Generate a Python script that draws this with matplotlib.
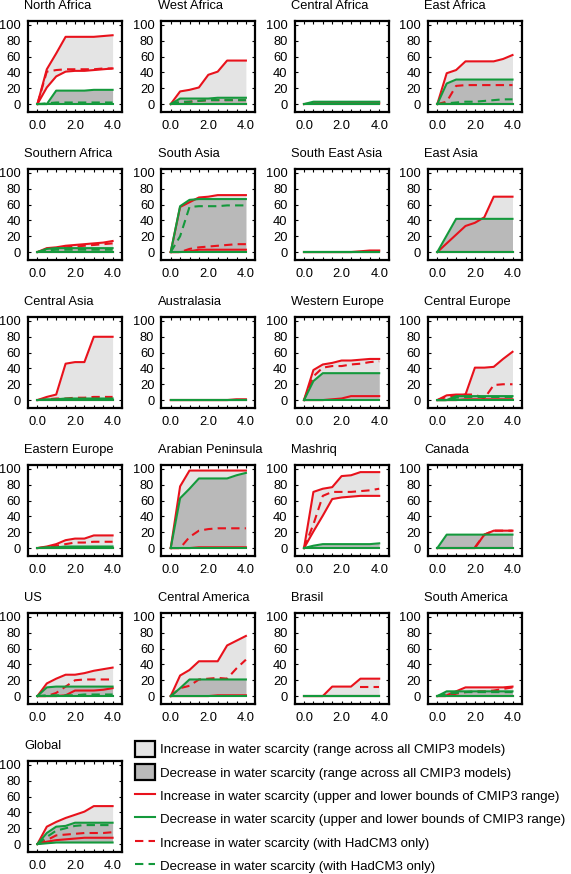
import matplotlib
matplotlib.use("Agg")
import matplotlib.pyplot as plt
import numpy as np
from matplotlib.patches import Patch
from matplotlib.lines import Line2D

plt.rcParams["font.family"] = ["Liberation Sans", "DejaVu Sans"]
plt.rcParams["font.size"] = 9

nan = np.nan
# warming (x axis), same for every region
dT = [0.0, 0.5, 1.0, 1.5, 2.0, 2.5, 3.0, 3.5, 4.0]

regions = ["North Africa", "West Africa", "Central Africa", "East Africa",
           "Southern Africa", "South Asia", "South East Asia", "East Asia",
           "Central Asia", "Australasia", "Western Europe", "Central Europe",
           "Eastern Europe", "Arabian Peninsula", "Mashriq", "Canada",
           "US", "Central America", "Brasil", "South America", "Global"]

# increase in water scarcity, CMIP3 upper / lower bounds
red_hi = {
    "North Africa":      [0, 44, 64, 85, 85, 85, 85, 86, 87],
    "West Africa":       [0, 16, 18, 21, 37, 41, 55, 55, 55],
    "Central Africa":    [0, 1, 1, 1, 1, 1, 1, 1, 1],
    "East Africa":       [0, 39, 43, 54, 54, 54, 54, 57, 62],
    "Southern Africa":   [0, 5, 6, 8, 9, 10, 11, 12, 14],
    "South Asia":        [0, 57, 63, 69, 70, 72, 72, 72, 72],
    "South East Asia":   [0, 0, 0, 0, 0, 0, 1, 2, 2],
    "East Asia":         [0, 11, 22, 33, 37, 44, 70, 70, 70],
    "Central Asia":      [0, 4, 7, 46, 48, 48, 80, 80, 80],
    "Australasia":       [0, 0, 0, 0, 0, 0, 0, 1, 1],
    "Western Europe":    [0, 38, 45, 47, 50, 50, 51, 52, 52],
    "Central Europe":    [0, 6, 7, 7, 41, 41, 42, 52, 61],
    "Eastern Europe":    [0, 2, 5, 10, 12, 12, 16, 16, 16],
    "Arabian Peninsula": [0, 78, 98, 98, 98, 98, 98, 98, 98],
    "Mashriq":           [0, 71, 75, 77, 91, 92, 96, 96, 96],
    "Canada":            [0, 0, 0, 0, 0, 17, 22, 22, 22],
    "US":                [0, 16, 22, 27, 27, 29, 32, 34, 36],
    "Central America":   [0, 26, 33, 44, 44, 44, 64, 70, 76],
    "Brasil":            [0, 0, 0, 12, 12, 12, 22, 22, 22],
    "South America":     [0, 1, 6, 11, 11, 11, 11, 11, 12],
    "Global":            [0, 22, 28, 33, 37, 41, 48, 48, 48],
}
red_lo = {
    "North Africa":      [0, 21, 35, 41, 42, 42, 43, 44, 45],
    "South Asia":        [0, 0, 1, 3, 3, 3, 3, 3, 3],
    "Western Europe":    [0, 0, 0, 1, 2, 5, 5, 5, 5],
    "Central Europe":    [0, 0, 0, 1, 1, 1, 1, 1, 1],
    "Arabian Peninsula": [0, 0, 0, 1, 1, 1, 1, 1, 1],
    "Mashriq":           [0, 21, 41, 62, 64, 65, 66, 66, 66],
    "US":                [0, 0, 0, 1, 7, 7, 7, 8, 10],
    "Central America":   [0, 0, 0, 0, 0, 1, 1, 1, 1],
    "Global":            [0, 3, 5, 6, 7, 8, 8, 8, 8],
}
# decrease in water scarcity, CMIP3 upper / lower bounds
green_hi = {
    "North Africa":      [0, 0, 17, 17, 17, 17, 18, 18, 18],
    "West Africa":       [0, 7, 7, 7, 7, 8, 8, 8, 8],
    "Central Africa":    [0, 3, 3, 3, 3, 3, 3, 3, 3],
    "East Africa":       [0, 26, 31, 31, 31, 31, 31, 31, 31],
    "Southern Africa":   [0, 4, 5, 5, 5, 5, 5, 5, 5],
    "South Asia":        [0, 58, 66, 67, 67, 67, 67, 67, 67],
    "South East Asia":   [0, 0, 0, 0, 0, 0, 0, 0, 0],
    "East Asia":         [0, 21, 42, 42, 42, 42, 42, 42, 42],
    "Central Asia":      [0, 1, 1, 2, 2, 2, 2, 2, 2],
    "Australasia":       [0, 0, 0, 0, 0, 0, 0, 0, 0],
    "Western Europe":    [0, 24, 34, 34, 34, 34, 34, 34, 34],
    "Central Europe":    [0, 0, 5, 5, 5, 5, 5, 5, 5],
    "Eastern Europe":    [0, 1, 1, 2, 2, 2, 2, 2, 2],
    "Arabian Peninsula": [0, 63, 75, 88, 88, 88, 88, 92, 95],
    "Mashriq":           [0, 3, 5, 5, 5, 5, 5, 5, 6],
    "Canada":            [0, 17, 17, 17, 17, 17, 17, 17, 17],
    "US":                [0, 11, 12, 12, 12, 12, 12, 12, 12],
    "Central America":   [0, 10, 21, 21, 21, 21, 21, 21, 21],
    "Brasil":            [0, 0, 0, 0, 0, 0, 0, 0, 0],
    "South America":     [0, 6, 6, 6, 6, 6, 6, 6, 6],
    "Global":            [0, 14, 22, 23, 27, 27, 27, 27, 27],
}
green_lo = {
    "Global":            [0, 1, 2, 2, 2, 2, 2, 2, 2],
}
# HadCM3 only
red_had = {
    "North Africa":      [0, 41, 43, 44, 44, 44, 44, 45, 45],
    "West Africa":       [0, 2, 3, 4, 5, 5, 5, 5, 5],
    "East Africa":       [0, 3, 23, 24, 24, 24, 24, 24, 24],
    "Southern Africa":   [0, 3, 5, 6, 7, 8, 9, 10, 11],
    "South Asia":        [0, 0, 4, 6, 7, 8, 9, 10, 10],
    "Central Asia":      [0, 1, 2, 2, 3, 3, 4, 4, 4],
    "Western Europe":    [0, 30, 41, 43, 43, 45, 46, 48, 49],
    "Central Europe":    [0, 4, 6, 7, 7, 2, 19, 20, 20],
    "Eastern Europe":    [0, 1, 3, 5, 7, 7, 8, 8, 8],
    "Arabian Peninsula": [0, 0, 14, 22, 24, 25, 25, 25, 25],
    "Mashriq":           [0, 30, 66, 71, 71, 71, 72, 73, 75],
    "Canada":            [nan, nan, nan, nan, 1, 17, 22, 22, 22],
    "US":                [0, 0, 4, 12, 20, 21, 21, 21, 21],
    "Central America":   [0, 10, 13, 21, 22, 23, 22, 35, 46],
    "Brasil":            [nan, nan, nan, nan, nan, nan, 12, 12, 12],
    "South America":     [0, 0, 3, 5, 6, 6, 7, 9, 11],
    "Global":            [0, 5, 11, 12, 13, 14, 14, 14, 15],
}
green_had = {
    "North Africa":      [0, 1, 2, 2, 2, 2, 2, 2, 2],
    "West Africa":       [0, 3, 3, 4, 5, 5, 5, 5, 5],
    "East Africa":       [0, 1, 2, 3, 3, 4, 5, 6, 6],
    "Southern Africa":   [0, 2, 3, 3, 3, 3, 3, 3, 3],
    "South Asia":        [0, 20, 57, 58, 58, 58, 59, 59, 59],
    "Central Europe":    [0, 0, 3, 4, 4, 4, 4, 4, 4],
    "US":                [0, 1, 1, 1, 1, 2, 2, 2, 2],
    "South America":     [0, 3, 4, 5, 5, 5, 5, 5, 5],
    "Global":            [0, 9, 17, 20, 23, 24, 24, 24, 24],
}

RED = "#e8121c"
GREEN = "#14993c"
LIGHT = "#e4e4e4"
DARK = "#b9b9b9"

W, H = 571, 874
fig = plt.figure(figsize=(W / 100, H / 100), dpi=100)

zero = [0] * len(dT)
for i, name in enumerate(regions):
    r, c = divmod(i, 4)
    left = 28 + 133.3 * c
    top = 21 + 148 * r
    ax = fig.add_axes([left / W, 1 - (top + 91) / H, 94 / W, 91 / H])

    rh = red_hi[name]
    rl = red_lo.get(name, zero)
    gh = green_hi[name]
    gl = green_lo.get(name, zero)
    ax.fill_between(dT, rl, rh, color=LIGHT, lw=0, zorder=1)
    ax.fill_between(dT, gl, gh, color=DARK, lw=0, zorder=2)
    ax.plot(dT, rh, color=RED, lw=1.5, zorder=3)
    ax.plot(dT, rl, color=RED, lw=1.5, zorder=3)
    if name in red_had:
        ax.plot(dT, red_had[name], color=RED, lw=1.5, dashes=(4, 2.5), zorder=4)
    ax.plot(dT, gh, color=GREEN, lw=1.5, zorder=5)
    ax.plot(dT, gl, color=GREEN, lw=1.5, zorder=5)
    if name in green_had:
        ax.plot(dT, green_had[name], color=GREEN, lw=1.5, dashes=(4, 2.5), zorder=6)

    ax.set_xlim(-0.5, 4.5)
    ax.set_ylim(-10, 105)
    ax.set_xticks([0, 2, 4])
    ax.set_xticklabels(["0.0", "2.0", "4.0"])
    ax.set_xticks(np.arange(0, 4.01, 0.5), minor=True)
    ax.set_yticks(range(0, 101, 20))
    ax.tick_params(direction="in", length=2.5, width=0.8, top=True, right=True,
                   labelsize=9.3, pad=5)
    ax.tick_params(axis="x", pad=6)
    ax.tick_params(which="minor", direction="in", length=2, width=0.8,
                   top=True, right=True)
    for s in ax.spines.values():
        s.set_linewidth(1.6)
    ax.text(-0.04, 1.13, name, transform=ax.transAxes, ha="left", va="baseline",
            fontsize=9.3)

handles = [
    Patch(facecolor=LIGHT, edgecolor="black", linewidth=1.6),
    Patch(facecolor=DARK, edgecolor="black", linewidth=1.6),
    Line2D([], [], color=RED, lw=1.5),
    Line2D([], [], color=GREEN, lw=1.5),
    Line2D([], [], color=RED, lw=1.5, dashes=(4, 2.5)),
    Line2D([], [], color=GREEN, lw=1.5, dashes=(4, 2.5)),
]
labels = [
    "Increase in water scarcity (range across all CMIP3 models)",
    "Decrease in water scarcity (range across all CMIP3 models)",
    "Increase in water scarcity (upper and lower bounds of CMIP3 range)",
    "Decrease in water scarcity (upper and lower bounds of CMIP3 range)",
    "Increase in water scarcity (with HadCM3 only)",
    "Decrease in water scarcity (with HadCM3 only)",
]
fig.legend(handles, labels, loc="upper left",
           bbox_to_anchor=(135 / W, 1 - 741 / H), frameon=False,
           borderaxespad=0, borderpad=0, handlelength=1.5, handleheight=1.5,
           handletextpad=0.4, labelspacing=0.55, fontsize=9.5)

fig.savefig("out.png", dpi=100)
